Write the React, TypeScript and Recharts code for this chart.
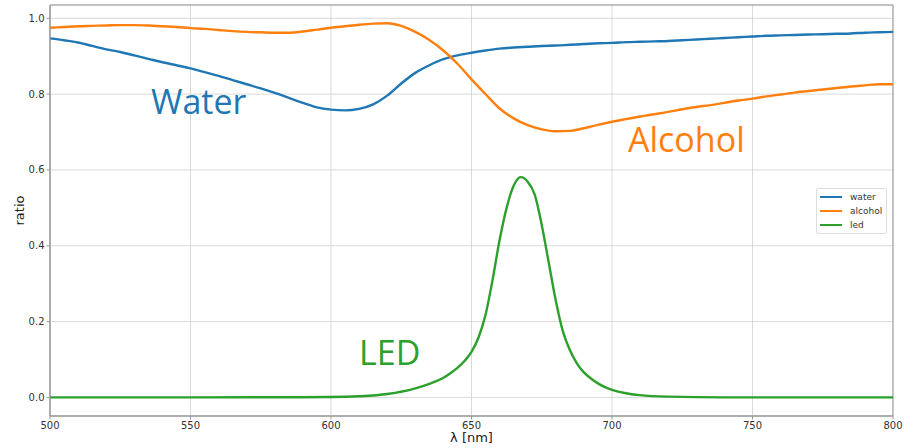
import React from "react";
import {
  LineChart,
  Line,
  XAxis,
  YAxis,
  CartesianGrid,
  ReferenceArea,
} from "recharts";

// wavelength grid shared by water / alcohol (nm)
const wavelengths = [
  500, 505, 510, 515, 520, 525, 530, 535, 540, 545, 550, 555, 560, 565, 570,
  575, 580, 585, 590, 595, 600, 605, 610, 615, 620, 625, 630, 635, 640, 645,
  650, 655, 660, 665, 670, 675, 680, 685, 690, 695, 700, 705, 710, 715, 720,
  725, 730, 735, 740, 745, 750, 755, 760, 765, 770, 775, 780, 785, 790, 795,
  800,
];

const waterRatio = [
  0.947, 0.942, 0.936, 0.927, 0.918, 0.911, 0.902, 0.893, 0.884, 0.876, 0.868,
  0.858, 0.848, 0.837, 0.826, 0.815, 0.803, 0.79, 0.777, 0.765, 0.759, 0.757,
  0.761, 0.773, 0.796, 0.828, 0.856, 0.876, 0.892, 0.902, 0.909, 0.915, 0.92,
  0.923, 0.925, 0.927, 0.928, 0.93, 0.932, 0.934, 0.935, 0.937, 0.938, 0.939,
  0.94, 0.942, 0.944, 0.946, 0.948, 0.95, 0.952, 0.954, 0.955, 0.956, 0.957,
  0.958, 0.959, 0.96, 0.962, 0.963, 0.964,
];

const alcoholRatio = [
  0.975, 0.977, 0.979, 0.98, 0.981, 0.982, 0.982, 0.981, 0.979, 0.977, 0.974,
  0.972, 0.969, 0.966, 0.964, 0.963, 0.962, 0.962, 0.965, 0.97, 0.975, 0.979,
  0.983, 0.986, 0.987, 0.98, 0.964, 0.943, 0.915, 0.88, 0.839, 0.8, 0.762,
  0.736, 0.718, 0.707, 0.702, 0.703, 0.71, 0.719, 0.727, 0.734, 0.741, 0.747,
  0.753, 0.76, 0.766, 0.771, 0.777, 0.783, 0.788, 0.794, 0.799, 0.804, 0.808,
  0.812, 0.816, 0.82, 0.823, 0.826, 0.826,
];

// led spectrum, sampled finer around the peak
const ledNm = [
  500, 550, 600, 610, 620, 630, 635, 640, 642.5, 645, 647.5, 650, 652.5, 655,
  657.5, 660, 662.5, 665, 667.5, 670, 672.5, 675, 677.5, 680, 682.5, 685, 687.5,
  690, 692.5, 695, 697.5, 700, 705, 710, 720, 740, 800,
];
const ledRatio = [
  0, 0, 0.001, 0.003, 0.009, 0.024, 0.036, 0.052, 0.064, 0.078, 0.096, 0.12,
  0.158, 0.218, 0.31, 0.415, 0.5, 0.558, 0.581, 0.569, 0.535, 0.455, 0.355,
  0.255, 0.175, 0.125, 0.09, 0.066, 0.05, 0.037, 0.027, 0.02, 0.011, 0.006,
  0.002, 0, 0,
];

const xTicks = [500, 550, 600, 650, 700, 750, 800];
const yTicks = [0, 0.2, 0.4, 0.6, 0.8, 1.0];

const seriesNames = ["water", "alcohol", "led"];
const seriesColors = ["#1f77b4", "#ff7f0e", "#2ca02c"];

const mainData = wavelengths.map((nm, i) => ({
  nm,
  water: waterRatio[i],
  alcohol: alcoholRatio[i],
}));
const ledData = ledNm.map((nm, i) => ({ nm, led: ledRatio[i] }));

const Y_MIN = -0.049;
const Y_MAX = 1.035;

const tickStyle = { fontSize: 10, fill: "#333", fontFamily: "DejaVu Sans" };

const legendBox = (
  <div
    style={{
      position: "absolute",
      left: 816,
      top: 188,
      width: 71,
      height: 46,
      border: "1px solid #ddd",
      borderRadius: 2,
      background: "#fff",
      boxSizing: "border-box",
      padding: "1px 0 0 3px",
      fontFamily: "DejaVu Sans",
      fontSize: 9,
      color: "#333",
    }}
  >
    {seriesNames.map((n, i) => (
      <div key={n} style={{ display: "flex", alignItems: "center", height: 14 }}>
        <div
          style={{
            width: 22,
            height: 2,
            background: seriesColors[i],
            marginRight: 8,
          }}
        />
        <span>{n}</span>
      </div>
    ))}
  </div>
);

const annot = (text: string, left: number, top: number, color: string) => (
  <div
    style={{
      position: "absolute",
      left,
      top,
      color,
      fontFamily: "Open Sans",
      fontSize: 34,
      lineHeight: "34px",
      whiteSpace: "nowrap",
    }}
  >
    {text}
  </div>
);

const App = () => {
  return (
    <div
      style={{
        position: "absolute",
        left: 0,
        top: 0,
        width: 908,
        height: 448,
        background: "#fff",
      }}
    >
      <LineChart
        width={908}
        height={448}
        data={mainData}
        margin={{ top: 5, right: 15, bottom: 0, left: 0 }}
      >
        <CartesianGrid stroke="#d9d9d9" strokeWidth={1} />
        <XAxis
          type="number"
          dataKey="nm"
          domain={[500, 800]}
          ticks={xTicks}
          height={32}
          tick={tickStyle}
          tickSize={3.5}
          tickMargin={2}
          stroke="#999"
          label={{
            value: "λ [nm]",
            position: "insideBottom",
            offset: 6,
            style: { fontSize: 13, fill: "#222", fontFamily: "DejaVu Sans" },
          }}
        />
        <YAxis
          type="number"
          domain={[Y_MIN, Y_MAX]}
          ticks={yTicks}
          width={50}
          tick={tickStyle}
          tickSize={3.5}
          tickMargin={2}
          tickFormatter={(v: number) => v.toFixed(1)}
          stroke="#999"
          allowDataOverflow
          label={{
            value: "ratio",
            angle: -90,
            position: "insideLeft",
            offset: 19,
            style: {
              fontSize: 13,
              fill: "#222",
              fontFamily: "DejaVu Sans",
              textAnchor: "middle",
            },
          }}
        />
        <ReferenceArea
          x1={500}
          x2={800}
          y1={Y_MIN}
          y2={Y_MAX}
          fill="none"
          fillOpacity={0}
          stroke="#999"
          strokeWidth={1}
        />
        <Line
          type="monotone"
          dataKey="water"
          name="water"
          stroke={seriesColors[0]}
          strokeWidth={2.4}
          dot={false}
          isAnimationActive={false}
        />
        <Line
          type="monotone"
          dataKey="alcohol"
          name="alcohol"
          stroke={seriesColors[1]}
          strokeWidth={2.4}
          dot={false}
          isAnimationActive={false}
        />
        <Line
          type="monotone"
          data={ledData}
          dataKey="led"
          name="led"
          stroke={seriesColors[2]}
          strokeWidth={2.4}
          dot={false}
          isAnimationActive={false}
        />
      </LineChart>
      {legendBox}
      {annot("Water", 151, 84, seriesColors[0])}
      {annot("Alcohol", 628, 122, seriesColors[1])}
      {annot("LED", 359, 335, seriesColors[2])}
    </div>
  );
};

export default App;
